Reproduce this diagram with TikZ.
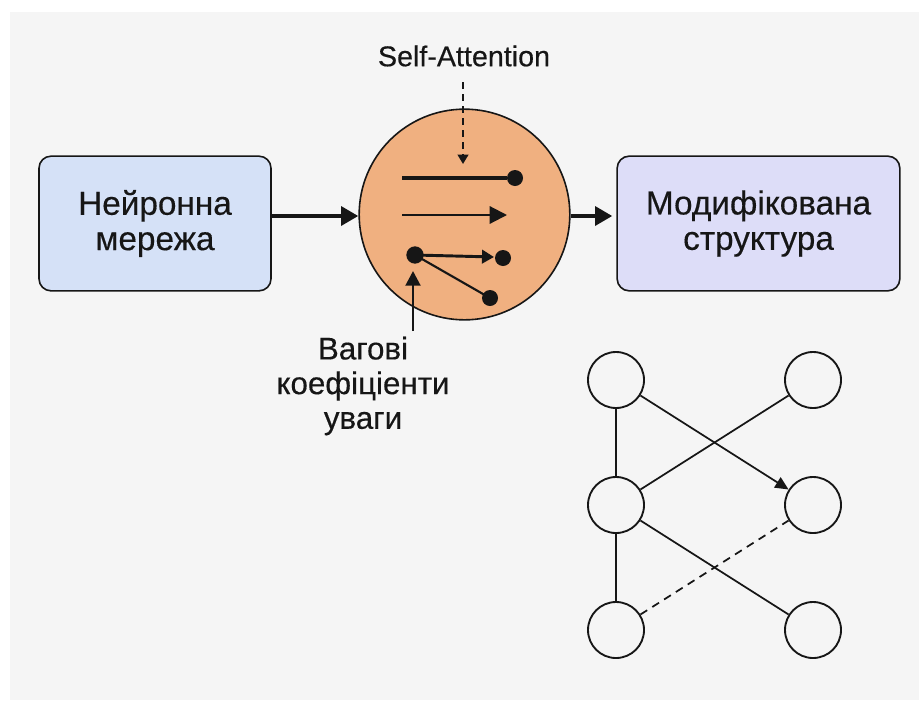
\documentclass[tikz,border=0pt]{standalone}
\usepackage{fontspec}
\setmainfont{Liberation Sans}[FakeBold=0.35]
\usetikzlibrary{arrows.meta}

\definecolor{bggray}{RGB}{245,245,245}
\definecolor{netblue}{RGB}{213,225,247}
\definecolor{modlilac}{RGB}{221,221,248}
\definecolor{attnorange}{RGB}{240,176,128}
\definecolor{inkblack}{RGB}{22,22,22}

\tikzset{every picture/.style={line width=0.75pt}}
\tikzset{
  bigbox/.style={draw=inkblack, line width=1.2pt, rounded corners=9pt, align=center,
    minimum height=101pt, font=\fontsize{25}{26.5}\selectfont, text=inkblack},
  fatarrow/.style={draw=inkblack, line width=3.6pt, -{Triangle[length=13pt,width=14pt]}},
  blackdot/.style={circle, fill=inkblack, inner sep=0pt, minimum size=12pt},
  gnode/.style={circle, draw=inkblack, line width=1.4pt, minimum size=42pt, inner sep=0pt},
  gedge/.style={draw=inkblack, line width=1.3pt}
}

\begin{document}
\begin{tikzpicture}[x=0.75pt,y=0.75pt,yscale=-1,xscale=1]
	\useasboundingbox (0,0) rectangle (919,700);
	%Background
	\fill[white] (0,0) rectangle (919,700);
	\fill[bggray] (10,12) rectangle (919,700);

	%Boxes
	\node[bigbox, fill=netblue, minimum width=174pt] (net) at (155,223.5) {Нейронна\\мережа};
	\node[bigbox, fill=modlilac, minimum width=212pt] (mod) at (758.5,223.5) {Модифікована\\структура};
	%Attention circle
	\node[circle, draw=inkblack, line width=1.2pt, fill=attnorange, minimum size=158pt, inner sep=0pt] (attn) at (464.5,214.5) {};

	%Main arrows
	\draw[fatarrow] (net.east |- 0,216) -- (attn.west |- 0,216);
	\draw[fatarrow, shorten >=3pt] (attn.east |- 0,216) -- (mod.west |- 0,216);

	% Text Node
	\node[font=\fontsize{21.5}{23}\selectfont, text=inkblack] (sa) at (464,56) {Self-Attention};
	\coordinate (satop) at (463,82);
	\coordinate (sabot) at (463,164);
	\draw[inkblack, line width=1.4pt, dash pattern=on 5pt off 4pt, -{Triangle[length=7pt,width=8pt]}] (satop) -- (sabot);

	%Inside the circle
	\coordinate (s1) at (402,178);
	\node[blackdot] (d1) at (515,178) {};
	\draw[inkblack, line width=3pt] (s1) -- (d1);
	\coordinate (s2) at (402,215);
	\coordinate (t2) at (507,215);
	\draw[inkblack, line width=1.6pt, -{Triangle[length=13pt,width=13pt]}] (s2) -- (t2);
	\node[blackdot, minimum size=13pt] (d3) at (415,255) {};
	\node[blackdot] (d4) at (503,258) {};
	\node[blackdot] (d5) at (490,298) {};
	\coordinate (t4) at (494,257);
	\draw[inkblack, line width=2.2pt, -{Triangle[length=9pt,width=10pt]}] (d3.center) -- (t4);
	\draw[inkblack, line width=1.6pt] (d3.center) -- (d5.center);

	% Text Node
	\node[align=center, font=\fontsize{23.5}{26}\selectfont, text=inkblack] (weights) at (363,386) {Вагові\\коефіціенти\\уваги};
	\coordinate (wtop) at (413,331);
	\coordinate (wtip) at (413,271);
	\draw[inkblack, line width=2.2pt, -{Triangle[length=11pt,width=11pt]}] (wtop) -- (wtip);

	%Graph
	\node[gnode] (l1) at (616,380) {};
	\node[gnode] (l2) at (616,505) {};
	\node[gnode] (l3) at (616,630) {};
	\node[gnode] (r1) at (813,380) {};
	\node[gnode] (r2) at (813,505) {};
	\node[gnode] (r3) at (813,630) {};
	\draw[gedge] (l1) -- (l2);
	\draw[gedge] (l2) -- (l3);
	\draw[gedge, -{Triangle[length=10pt,width=9pt]}] (l1) -- (r2);
	\draw[gedge] (r1) -- (l2);
	\draw[gedge] (l2) -- (r3);
	\draw[gedge, dash pattern=on 6pt off 4.5pt] (l3) -- (r2);

\end{tikzpicture}
\end{document}
